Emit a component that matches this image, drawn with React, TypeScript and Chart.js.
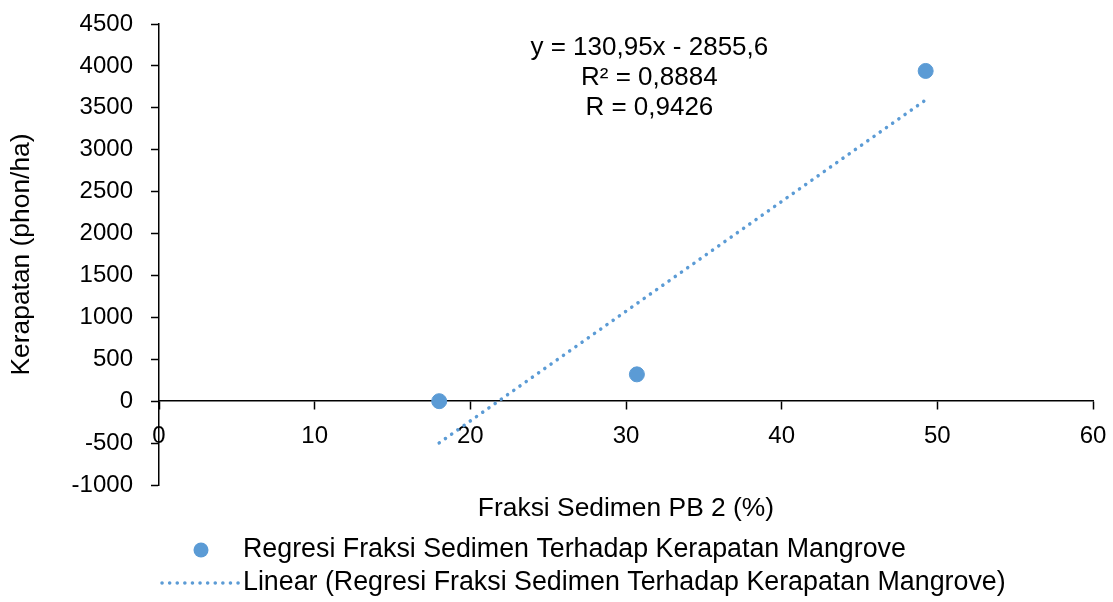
import React, { useEffect, useRef } from "react";
import { Chart, registerables } from "chart.js";

Chart.register(...registerables);

// ---- data ----
const pointX = [18, 30.7, 49.25];
const pointY = [0, 320, 3940];
const trendX = [18, 49.25];
const trendY = [-498, 3594];
const seriesName = "Regresi Fraksi Sedimen Terhadap Kerapatan Mangrove";
const trendName = "Linear (Regresi Fraksi Sedimen Terhadap Kerapatan Mangrove)";
const equationLines = ["y = 130,95x - 2855,6", "R² = 0,8884", "R = 0,9426"];
const equationAnchor = [31.5, 4215];
const xTitle = "Fraksi Sedimen PB 2 (%)";
const yTitle = "Kerapatan (phon/ha)";
const xRange = [0, 60, 10];
const yRange = [-1000, 4500, 500];

const BLUE = "#5B9BD5";
const TEXT = "#000000";
const FONT = "'Liberation Sans', Arial, sans-serif";

const overlayPlugin = {
  id: "overlay",
  afterDraw(chart: any) {
    const ctx = chart.ctx;
    const area = chart.chartArea;
    const xs = chart.scales.x;
    const ys = chart.scales.y;
    ctx.save();
    ctx.fillStyle = TEXT;
    ctx.font = `26px ${FONT}`;
    ctx.textAlign = "center";
    ctx.textBaseline = "middle";
    // equation annotation
    const ex = xs.getPixelForValue(equationAnchor[0]);
    const ey = ys.getPixelForValue(equationAnchor[1]);
    equationLines.forEach((t, i) => ctx.fillText(t, ex, ey + i * 30));
    // x axis title
    ctx.font = `26.4px ${FONT}`;
    ctx.fillText(xTitle, (area.left + area.right) / 2, area.bottom + 24);
    // legend
    ctx.font = `26.8px ${FONT}`;
    const r1 = area.bottom + 65;
    const r2 = area.bottom + 98;
    ctx.textAlign = "left";
    ctx.beginPath();
    ctx.arc(area.left + 42, r1, 7.5, 0, Math.PI * 2);
    ctx.fillStyle = BLUE;
    ctx.fill();
    ctx.fillStyle = TEXT;
    ctx.fillText(seriesName, area.left + 84, r1);
    ctx.beginPath();
    ctx.strokeStyle = BLUE;
    ctx.lineWidth = 3.5;
    ctx.lineCap = "round";
    ctx.setLineDash([0.1, 7.5]);
    ctx.moveTo(area.left + 3, r2);
    ctx.lineTo(area.left + 80, r2);
    ctx.stroke();
    ctx.setLineDash([]);
    ctx.fillText(trendName, area.left + 84, r2);
    ctx.restore();
  },
};

export default function App() {
  const ref = useRef<HTMLCanvasElement | null>(null);
  useEffect(() => {
    if (!ref.current) return;
    const chart = new Chart(ref.current, {
      type: "scatter",
      data: {
        datasets: [
          {
            label: seriesName,
            data: pointX.map((x, i) => ({ x, y: pointY[i] })),
            backgroundColor: BLUE,
            borderColor: BLUE,
            pointRadius: 7.5,
            pointHoverRadius: 7.5,
            order: 1,
          },
          {
            label: trendName,
            data: trendX.map((x, i) => ({ x, y: trendY[i] })),
            showLine: true,
            borderColor: BLUE,
            borderWidth: 3.5,
            borderDash: [0.1, 7.5],
            borderCapStyle: "round",
            pointRadius: 0,
            order: 2,
          } as any,
        ],
      },
      options: {
        responsive: false,
        animation: false,
        layout: { padding: { left: 0, right: 20, top: 24, bottom: 117 } },
        plugins: { legend: { display: false }, tooltip: { enabled: false } },
        scales: {
          x: {
            type: "linear",
            position: { y: 0 } as any,
            min: xRange[0],
            max: xRange[1],
            afterFit: (s: any) => {
              s.paddingLeft = 0;
              s.paddingRight = 0;
            },
            ticks: {
              stepSize: xRange[2],
              color: TEXT,
              font: { family: FONT, size: 24 },
              padding: 13,
              callback: (v: any) => String(v),
            },
            grid: {
              drawOnChartArea: false,
              drawTicks: true,
              tickLength: 8,
              tickColor: "#000",
              tickWidth: 1.5,
            },
            border: { color: "#000", width: 1.5 },
          },
          y: {
            type: "linear",
            position: "left",
            min: yRange[0],
            max: yRange[1],
            afterFit: (s: any) => {
              s.width = 159;
              s.paddingTop = 0;
              s.paddingBottom = 0;
            },
            ticks: {
              stepSize: yRange[2],
              color: TEXT,
              font: { family: FONT, size: 24 },
              padding: 18,
              callback: (v: any) => String(v),
            },
            grid: {
              drawOnChartArea: false,
              drawTicks: true,
              tickLength: 8,
              tickColor: "#000",
              tickWidth: 1.5,
            },
            border: { color: "#000", width: 1.5 },
            title: {
              display: true,
              text: yTitle,
              color: TEXT,
              font: { family: FONT, size: 26.4 },
              padding: { top: 6, bottom: 0 },
            },
          },
        },
      },
      plugins: [overlayPlugin],
    });
    return () => chart.destroy();
  }, []);
  return (
    <div style={{ position: "absolute", left: 0, top: 0, width: 1113, height: 602, background: "#fff" }}>
      <canvas ref={ref} width={1113} height={602} style={{ display: "block" }} />
    </div>
  );
}
